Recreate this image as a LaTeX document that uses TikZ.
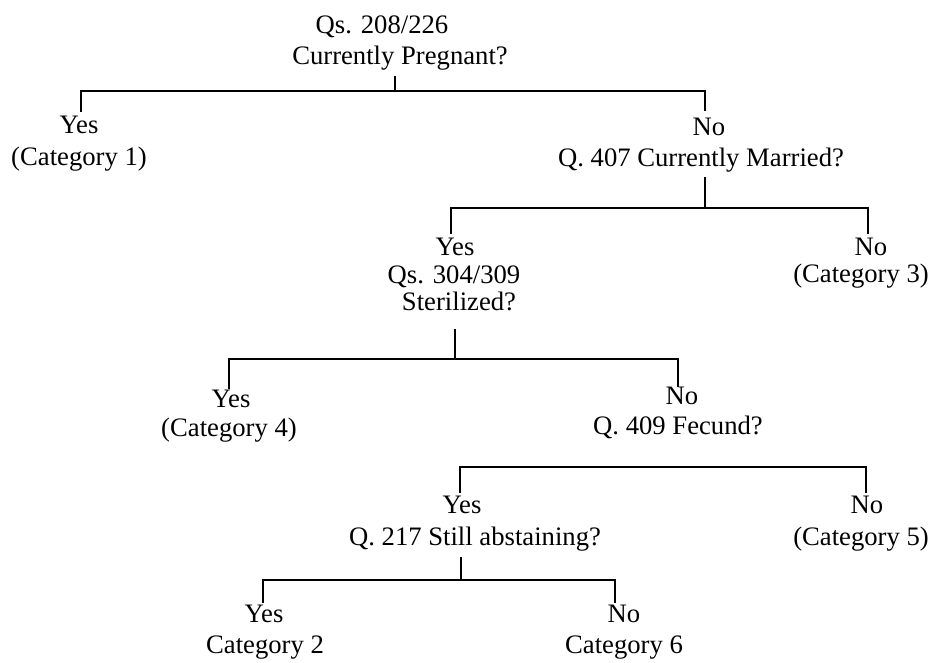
\documentclass[tikz,border=0pt]{standalone}
\usepackage{fontspec}
\setmainfont{Liberation Serif}
\begin{document}
\begin{tikzpicture}[x=0.75pt,y=-0.75pt,
  txt/.style={inner sep=0pt, text height=0.68em, text depth=0.2em, font=\fontsize{20}{24}\selectfont},
  ln/.style={line width=0.9pt, line cap=rect}]
\useasboundingbox (0,0) rectangle (931,663);
% ---- texts ----
\node[txt] (q0a) at (382,30) {Qs. 208/226};
\node[txt] (q0b) at (400,61) {Currently Pregnant?};
\node[txt] (y1)  at (79,130)  {Yes};
\node[txt] (c1)  at (79,162)  {(Category 1)};
\node[txt] (n1)  at (709,132) {No};
\node[txt] (q1)  at (701,163) {Q. 407 Currently Married?};
\node[txt] (y2)  at (455,252) {Yes};
\node[txt] (q2a) at (454,280) {Qs. 304/309};
\node[txt] (q2b) at (459,307) {Sterilized?};
\node[txt] (n2)  at (871,252) {No};
\node[txt] (c3)  at (861,279) {(Category 3)};
\node[txt] (y3)  at (231,404) {Yes};
\node[txt] (c4)  at (229,433) {(Category 4)};
\node[txt] (n3)  at (682,401) {No};
\node[txt] (q3)  at (678,431) {Q. 409 Fecund?};
\node[txt] (y4)  at (462,510) {Yes};
\node[txt] (q4)  at (475,542) {Q. 217 Still abstaining?};
\node[txt] (n4)  at (867,510) {No};
\node[txt] (c5)  at (861,542) {(Category 5)};
\node[txt] (y5)  at (264,619) {Yes};
\node[txt] (c2)  at (265,650) {Category 2};
\node[txt] (n5)  at (624,619) {No};
\node[txt] (c6)  at (624,650) {Category 6};
% ---- junction coordinates ----
\coordinate (r0t) at (395,77);  \coordinate (r0b) at (395,91);
\coordinate (b1l) at (81,91);   \coordinate (b1r) at (705,91);
\coordinate (y1t) at (81,111);  \coordinate (n1t) at (705,110);
\coordinate (r1t) at (705,178); \coordinate (r1b) at (705,208);
\coordinate (b2l) at (451,208); \coordinate (b2r) at (868,208);
\coordinate (y2t) at (451,233); \coordinate (n2t) at (868,233);
\coordinate (r2t) at (455,330); \coordinate (r2b) at (455,359);
\coordinate (b3l) at (229,359); \coordinate (b3r) at (678,359);
\coordinate (y3t) at (229,388); \coordinate (n3t) at (678,386);
\coordinate (b4l) at (460,467); \coordinate (b4r) at (866,467);
\coordinate (y4t) at (460,492); \coordinate (n4t) at (866,492);
\coordinate (r4t) at (461,558); \coordinate (r4b) at (461,580);
\coordinate (b5l) at (263,580); \coordinate (b5r) at (615,580);
\coordinate (y5t) at (263,602); \coordinate (n5t) at (615,602);
% ---- connectors ----
\draw[ln] (r0t) -- (r0b);
\draw[ln] (y1t) -- (b1l) -- (b1r) -- (n1t);
\draw[ln] (r1t) -- (r1b);
\draw[ln] (y2t) -- (b2l) -- (b2r) -- (n2t);
\draw[ln] (r2t) -- (r2b);
\draw[ln] (y3t) -- (b3l) -- (b3r) -- (n3t);
\draw[ln] (y4t) -- (b4l) -- (b4r) -- (n4t);
\draw[ln] (r4t) -- (r4b);
\draw[ln] (y5t) -- (b5l) -- (b5r) -- (n5t);
\end{tikzpicture}
\end{document}
